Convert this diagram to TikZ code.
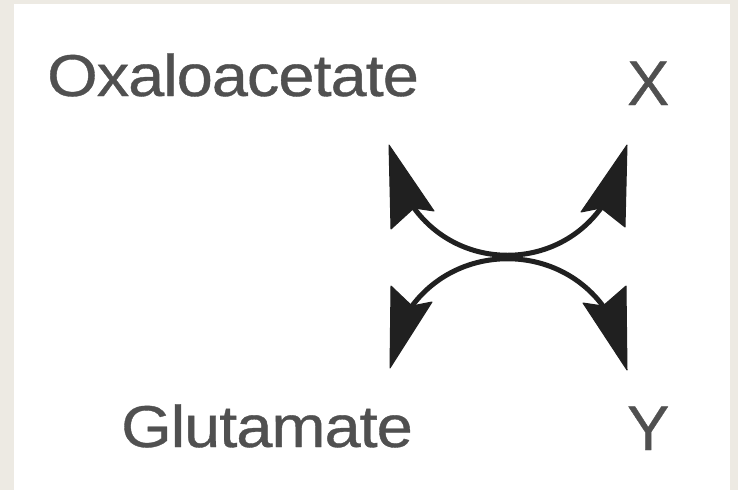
\documentclass[tikz,border=0pt]{standalone}
\usepackage{fontspec}
\setmainfont{Liberation Sans}[FakeBold=0.6,LetterSpace=-1.5]
\definecolor{frame}{RGB}{237,234,227}
\definecolor{txt}{RGB}{80,80,80}
\definecolor{ink}{RGB}{32,32,32}
\begin{document}
\begin{tikzpicture}[x=1pt,y=-1pt,
  lbl/.style={anchor=base west,inner sep=0pt,text=txt,font=\fontsize{59}{60}\selectfont},
  shaft/.style={draw=ink,line width=5pt},
  head/.style={fill=ink,draw=ink,line width=1pt,line join=round}]
\useasboundingbox (0,0) rectangle (738,490);
\fill[frame] (0,0) rectangle (738,490);
\fill[white] (14,4) rectangle (730,490);
% labels
\node[lbl] (oxa) at (47,96) {\scalebox{1.1}[1]{Oxaloacetate}};
\node[lbl,font=\fontsize{63}{64}\selectfont] (x) at (627,105) {X};
\node[lbl] (glu) at (121,447) {\scalebox{1.1}[1]{Glutamate}};
\node[lbl,font=\fontsize{63}{64}\selectfont] (y) at (627,450) {Y};
% arrow head points
\coordinate (ULtip) at (389,145); \coordinate (ULr) at (434,211); \coordinate (ULn) at (414,208); \coordinate (ULl) at (391,229);
\coordinate (URtip) at (627,145); \coordinate (URl) at (581,212); \coordinate (URn) at (601,208); \coordinate (URr) at (625,227);
\coordinate (LLtip) at (390,368); \coordinate (LLr) at (432,302); \coordinate (LLn) at (412,306); \coordinate (LLl) at (391,286);
\coordinate (LRtip) at (627,370); \coordinate (LRl) at (583,303); \coordinate (LRn) at (603,306); \coordinate (LRr) at (626,286);
% shafts
\draw[shaft] (ULn) .. controls (460,271) and (555,271) .. (URn);
\draw[shaft] (LLn) .. controls (459,243) and (556,243) .. (LRn);
% heads
\filldraw[head] (ULtip) -- (ULr) -- (ULn) -- (ULl) -- cycle;
\filldraw[head] (URtip) -- (URl) -- (URn) -- (URr) -- cycle;
\filldraw[head] (LLtip) -- (LLr) -- (LLn) -- (LLl) -- cycle;
\filldraw[head] (LRtip) -- (LRl) -- (LRn) -- (LRr) -- cycle;
\end{tikzpicture}
\end{document}
